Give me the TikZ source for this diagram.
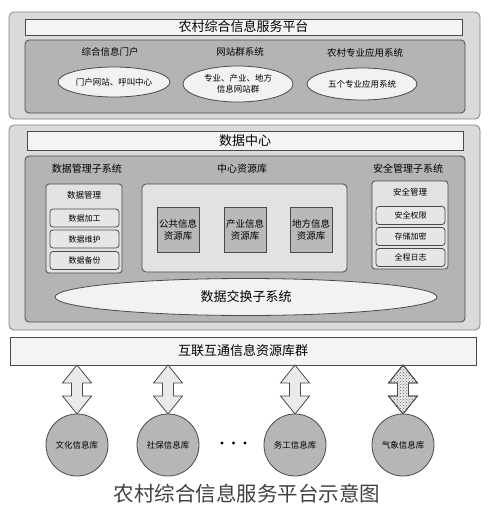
\documentclass[tikz,border=0pt]{standalone}
\usepackage{fontspec}
\setmainfont{Noto Sans CJK SC}
\usetikzlibrary{shapes.geometric,patterns}
\definecolor{outerfill}{HTML}{DADADA}
\definecolor{innerfill}{HTML}{B4B4B4}
\definecolor{barfill}{HTML}{F4F4F4}
\definecolor{ellfill}{HTML}{F2F2F2}
\definecolor{lightbox}{HTML}{E2E2E2}
\definecolor{subfill}{HTML}{E6E6E6}
\definecolor{dbfill}{HTML}{B9B9B9}
\definecolor{circfill}{HTML}{B6B6B6}
\definecolor{linecol}{HTML}{4A4A4A}
\definecolor{arrowfill}{HTML}{EAEAEA}
\tikzset{
  base/.style={inner sep=0pt, outer sep=0pt, draw=linecol, line width=0.8pt},
  outerbox/.style={base, rounded corners=5pt, fill=outerfill, draw=gray},
  titlebar/.style={base, fill=barfill, font=\fontsize{13}{13}\selectfont},
  innerbox/.style={base, rounded corners=4pt, fill=innerfill},
  lbl/.style={inner sep=0pt, font=\fontsize{9.5}{10}\selectfont},
  ell/.style={base, ellipse, fill=ellfill, align=center, font=\fontsize{8.5}{11}\selectfont},
  sidebox/.style={base, rounded corners=3pt, fill=lightbox},
  subbox/.style={base, rounded corners=3pt, fill=subfill, minimum width=69pt, minimum height=18pt, font=\fontsize{8}{8}\selectfont},
  dbbox/.style={base, fill=dbfill, minimum width=42pt, minimum height=45pt, align=center, font=\fontsize{9.5}{12}\selectfont},
  circ/.style={base, circle, fill=circfill, minimum size=62pt, font=\fontsize{8.5}{9}\selectfont},
  dblarrow/.style={draw=linecol, line width=0.8pt, fill=arrowfill, line join=miter},
}
\newcommand{\vdblarrow}[4][]{%
  % #2 = x, #3 = top y, #4 = bottom y  (y axis points down)
  \path[dblarrow,#1] (#2,#3) -- ++(14.5,18) -- ++(-9,0) -- (#2+5.5,#4-18) -- ++(9,0)
    -- (#2,#4) -- ++(-14.5,-18) -- ++(9,0) -- (#2-5.5,#3+18) -- ++(-9,0) -- cycle;}
\begin{document}
\begin{tikzpicture}[x=1pt,y=-1pt]
\useasboundingbox (0,0) rectangle (490,512);
% ---------- top platform ----------
\node[outerbox, minimum width=471pt, minimum height=107pt] (top) at (244.5,65.5) {};
\node[titlebar, minimum width=437pt, minimum height=16pt] (toptitle) at (243.5,27) {农村综合信息服务平台};
\node[innerbox, minimum width=440pt, minimum height=73pt] (topinner) at (245,76.5) {};
\node[lbl] (l1) at (110,52) {综合信息门户};
\node[lbl] (l2) at (240,52) {网站群系统};
\node[lbl] (l3) at (365,53) {农村专业应用系统};
\node[ell, minimum width=112pt, minimum height=30pt] (e1) at (114,82) {门户网站、呼叫中心};
\node[ell, minimum width=110pt, minimum height=36pt] (e2) at (238,84) {专业、产业、地方\\信息网站群};
\node[ell, minimum width=110pt, minimum height=32pt] (e3) at (362,84) {五个专业应用系统};
% ---------- data center ----------
\node[outerbox, minimum width=471pt, minimum height=205pt] (dc) at (244.5,227.5) {};
\node[titlebar, minimum width=436pt, minimum height=19pt] (dctitle) at (245,140.5) {数据中心};
\node[innerbox, minimum width=440pt, minimum height=166pt] (dcinner) at (245,239) {};
\node[lbl, font=\fontsize{10}{10}\selectfont] (m1) at (87,169) {数据管理子系统};
\node[lbl, font=\fontsize{10}{10}\selectfont] (m2) at (242,169) {中心资源库};
\node[lbl, font=\fontsize{10}{10}\selectfont] (m3) at (408,169) {安全管理子系统};
% left
\node[sidebox, minimum width=76pt, minimum height=89pt] (dm) at (84,228.5) {};
\node[lbl, font=\fontsize{8.5}{9}\selectfont] (dmt) at (84,195) {数据管理};
\node[subbox] (dm1) at (84.5,218) {数据加工};
\node[subbox] (dm2) at (84.5,239) {数据维护};
\node[subbox] (dm3) at (84.5,260.5) {数据备份};
% center
\node[sidebox, rounded corners=4pt, minimum width=205pt, minimum height=88pt] (cr) at (244.5,228) {};
\node[dbbox] (db1) at (178,229.5) {公共信息\\资源库};
\node[dbbox] (db2) at (245,229.5) {产业信息\\资源库};
\node[dbbox] (db3) at (311,229.5) {地方信息\\资源库};
% right
\node[sidebox, minimum width=76pt, minimum height=88pt] (sm) at (410,225) {};
\node[lbl, font=\fontsize{8.5}{9}\selectfont] (smt) at (410,192) {安全管理};
\node[subbox] (sm1) at (410.5,215.5) {安全权限};
\node[subbox] (sm2) at (410.5,236.5) {存储加密};
\node[subbox] (sm3) at (410.5,257.5) {全程日志};
% exchange
\node[ell, minimum width=382pt, minimum height=37pt, font=\fontsize{13}{13}\selectfont] (ex) at (246,297) {数据交换子系统};
% ---------- resource group ----------
\node[titlebar, fill=barfill, minimum width=466pt, minimum height=28pt] (bar) at (243,351) {互联互通信息资源库群};
% arrows
\vdblarrow{77}{365}{414}
\vdblarrow{168}{365}{414}
\vdblarrow{295}{365}{414}
\vdblarrow[fill=arrowfill]{403}{365}{414}
\vdblarrow[fill=none, draw=none, pattern=crosshatch dots, pattern color=black!60]{403}{365}{414}
\vdblarrow[fill=none]{403}{365}{414}
% circles
\node[circ] (c1) at (77,445) {文化信息库};
\node[circ] (c2) at (168,445) {社保信息库};
\node[circ] (c3) at (295,445) {务工信息库};
\node[circ] (c4) at (403,445) {气象信息库};
% dots
\fill[black] (222,443) circle (1.6pt) (233.5,443) circle (1.6pt) (245,443) circle (1.6pt);
% caption
\node[inner sep=0pt, text=black!75, font=\fontsize{20.5}{21}\selectfont] (cap) at (247,494) {农村综合信息服务平台示意图};
\end{tikzpicture}
\end{document}
